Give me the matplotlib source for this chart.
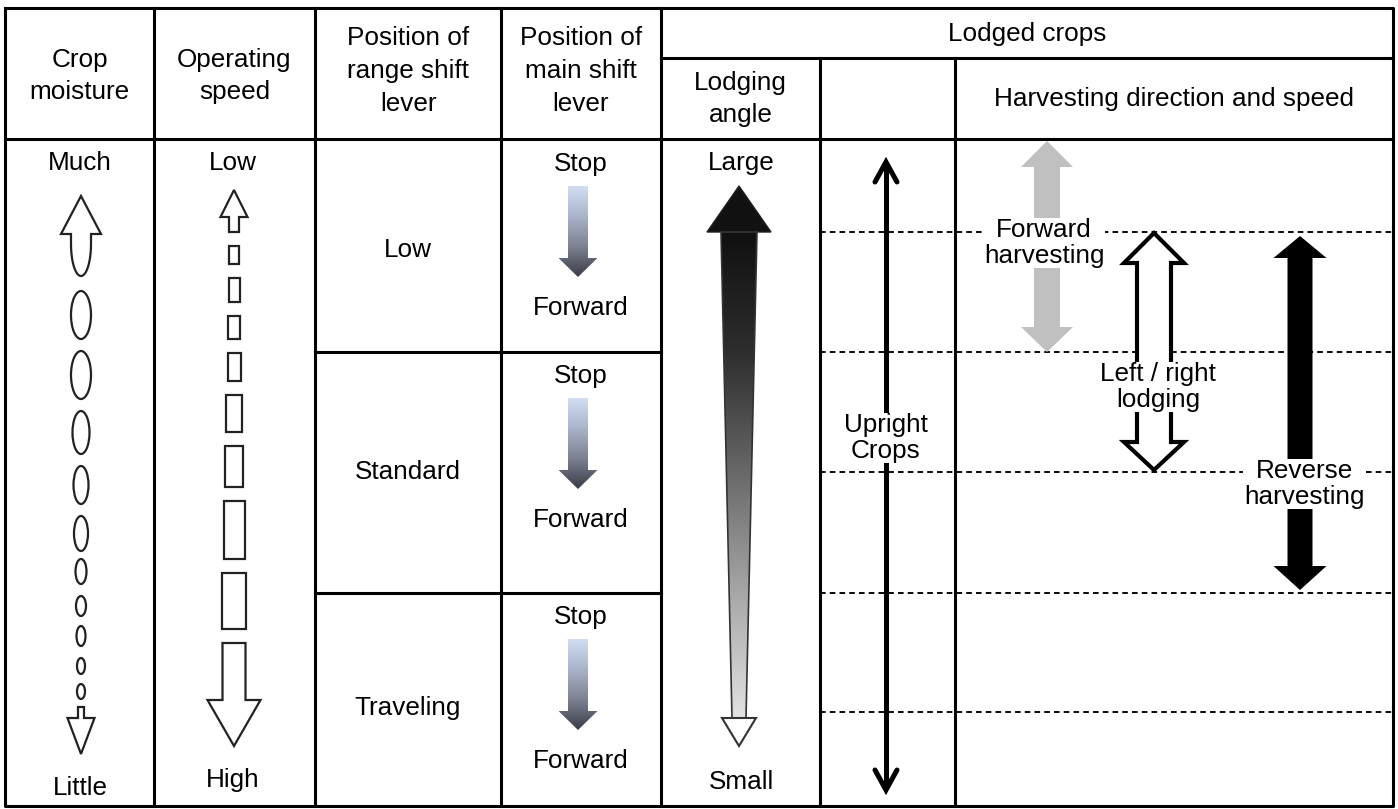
import numpy as np
import matplotlib.pyplot as plt
from matplotlib.patches import Polygon, Ellipse, Rectangle
from matplotlib.colors import LinearSegmentedColormap

plt.rcParams['font.family'] = ['Liberation Sans', 'DejaVu Sans']

# table texts
header_cols = ['Crop\nmoisture', 'Operating\nspeed',
               'Position of\nrange shift\nlever', 'Position of\nmain shift\nlever']
group_header = 'Lodged crops'
sub_headers = ['Lodging\nangle', '', 'Harvesting direction and speed']
moisture_ends = ['Much', 'Little']
speed_ends = ['Low', 'High']
range_positions = ['Low', 'Standard', 'Traveling']
main_shift = ['Stop', 'Forward']
angle_ends = ['Large', 'Small']
upright_label = 'Upright\nCrops'
harvest_labels = ['Forward\nharvesting', 'Left / right\nlodging', 'Reverse\nharvesting']

# layout (pixels, y down)
W, H = 1398, 809
col_x = [5, 154, 315, 501, 661, 820, 955, 1393]
top, mid_head, head_bot, bottom = 8, 58, 139, 806
cell_y = [139, 352, 593, 806]
dash_y = [232, 352, 472, 593, 712]
# crop moisture ovals: (top, bottom, width)
ovals = [(290, 340, 20), (350, 400, 20), (410, 455, 17), (465, 505, 15), (515, 552, 14),
         (558, 585, 11), (595, 617, 10), (625, 647, 9), (657, 675, 8), (683, 700, 8)]
# operating speed boxes: (top, bottom, width)
boxes = [(245, 265, 10), (277, 303, 11), (315, 340, 12), (352, 382, 13), (394, 433, 16),
         (445, 488, 18), (500, 560, 21), (572, 630, 24)]

FS = 18.8
LW = 2.2

fig = plt.figure(figsize=(W / 100, H / 100), dpi=100)
ax = fig.add_axes([0, 0, 1, 1])
ax.axis('off')


def txt(x, y, s, ls=1.45, **kw):
    ax.text(x, y, s, ha='center', va='center', fontsize=FS, linespacing=ls,
            multialignment='center', zorder=6, **kw)


def arrow_pts(cx, y_tail, y_base, y_tip, sw, hw):
    return [(cx - sw / 2, y_tail), (cx - sw / 2, y_base), (cx - hw / 2, y_base), (cx, y_tip),
            (cx + hw / 2, y_base), (cx + sw / 2, y_base), (cx + sw / 2, y_tail)]


def double_pts(cx, t_tip, t_base, b_base, b_tip, sw, hw):
    return [(cx, t_tip), (cx + hw / 2, t_base), (cx + sw / 2, t_base), (cx + sw / 2, b_base),
            (cx + hw / 2, b_base), (cx, b_tip), (cx - hw / 2, b_base), (cx - sw / 2, b_base),
            (cx - sw / 2, t_base), (cx - hw / 2, t_base)]


def grad_poly(pts, colors, z=3):
    pts = np.array(pts)
    cmap = LinearSegmentedColormap.from_list('g', colors)
    y0, y1 = pts[:, 1].min(), pts[:, 1].max()
    im = ax.imshow(np.linspace(0, 1, 256).reshape(-1, 1), cmap=cmap, aspect='auto',
                   extent=(pts[:, 0].min(), pts[:, 0].max(), y1, y0), origin='upper',
                   interpolation='bilinear', zorder=z)
    clip = Polygon(pts, closed=True, facecolor='none', edgecolor='none')
    ax.add_patch(clip)
    im.set_clip_path(clip)


# grid
ax.plot([col_x[0], col_x[-1], col_x[-1], col_x[0], col_x[0]], [top, top, bottom, bottom, top],
        color='black', lw=LW, zorder=5)
for x in col_x[1:5]:
    ax.plot([x, x], [top, bottom], color='black', lw=LW, zorder=5)
for x in col_x[5:7]:
    ax.plot([x, x], [mid_head, bottom], color='black', lw=LW, zorder=5)
ax.plot([col_x[4], col_x[-1]], [mid_head, mid_head], color='black', lw=LW, zorder=5)
ax.plot([col_x[0], col_x[-1]], [head_bot, head_bot], color='black', lw=LW, zorder=5)
for y in cell_y[1:3]:
    ax.plot([col_x[2], col_x[4]], [y, y], color='black', lw=LW, zorder=5)
for y in dash_y:
    ax.plot([col_x[5], col_x[-1]], [y, y], color='black', lw=1.35,
            linestyle=(0, (3.0, 2.2)), zorder=2)

# headers
for i, s in enumerate(header_cols):
    txt((col_x[i] + col_x[i + 1]) / 2, 76 if s.count('\n') == 1 else 71, s)
txt((col_x[4] + col_x[-1]) / 2, 34, group_header)
sub_x = [(col_x[4] + col_x[5]) / 2, (col_x[5] + col_x[6]) / 2, (col_x[6] + col_x[7]) / 2]
for x, s in zip(sub_x, sub_headers):
    txt(x, 99, s)

# crop moisture
cx = 81
txt(80, 163, moisture_ends[0])
txt(80, 788, moisture_ends[1])
t = np.linspace(0, np.pi, 40)
u = [(cx - 10, 234), (cx - 20, 234), (cx, 196), (cx + 20, 234), (cx + 10, 234)]
u += list(zip(cx + 10 * np.cos(t), 244 + 32 * np.sin(t)))
ax.add_patch(Polygon(u, closed=True, facecolor='white', edgecolor='#222', lw=1.6, zorder=3))
for (a, b, w) in ovals:
    ax.add_patch(Ellipse((cx, (a + b) / 2), w, b - a - 2, facecolor='none',
                         edgecolor='#222', lw=1.6, zorder=3))
ax.add_patch(Polygon(arrow_pts(cx, 707, 718, 754, 6, 27), closed=True, facecolor='white',
                     edgecolor='#222', lw=1.6, zorder=3))

# operating speed
cx = 234
txt(233, 163, speed_ends[0])
txt(233, 780, speed_ends[1])
ax.add_patch(Polygon(arrow_pts(cx, 232, 217, 190, 10, 27), closed=True, facecolor='white',
                     edgecolor='#222', lw=1.6, zorder=3))
for (a, b, w) in boxes:
    ax.add_patch(Rectangle((cx - w / 2, a + 1), w, b - a - 2, facecolor='none',
                           edgecolor='#222', lw=1.6, zorder=3))
ax.add_patch(Polygon(arrow_pts(cx, 643, 700, 746, 23, 53), closed=True, facecolor='white',
                     edgecolor='#222', lw=1.6, zorder=3))

# range shift lever
for i, s in enumerate(range_positions):
    txt(408, [250, 472, 708][i], s)

# main shift lever
cx = 581
for a in [140, 352, 593]:
    txt(cx, a + 24, main_shift[0])
    txt(cx, a + 168, main_shift[1])
    grad_poly(arrow_pts(cx - 3, a + 46, a + 118, a + 137, 20, 39),
              ['#d3ddf2', '#a9b3c9', '#7c8191', '#3a3c47'])

# lodging angle
cx = 739
txt(741, 163, angle_ends[0])
txt(741, 782, angle_ends[1])
ax.add_patch(Polygon([(cx, 186), (cx + 32, 232), (cx - 32, 232)], closed=True,
                     facecolor='#111', edgecolor='#222', lw=1, zorder=4))
stem = [(cx - 18, 232), (cx + 18, 232), (cx + 7, 718), (cx - 7, 718)]
grad_poly(stem, ['#101010', '#2e2e2e', '#6a6a6a', '#a8a8a8', '#e2e2e2'])
ax.add_patch(Polygon(stem, closed=True, facecolor='none', edgecolor='#333', lw=1.2, zorder=4))
ax.add_patch(Polygon([(cx - 17, 718), (cx + 17, 718), (cx, 746)], closed=True,
                     facecolor='white', edgecolor='#333', lw=1.5, zorder=4))

# upright crops
cx = 886
ax.plot([cx, cx], [163, 789], color='black', lw=3.6, zorder=3, solid_capstyle='butt')
ax.plot([cx - 11, cx, cx + 11], [182, 162, 182], color='black', lw=3.6, zorder=3,
        solid_capstyle='round', solid_joinstyle='miter')
ax.plot([cx - 11, cx, cx + 11], [770, 790, 770], color='black', lw=3.6, zorder=3,
        solid_capstyle='round', solid_joinstyle='miter')
txt(cx, 438, upright_label, ls=1.07, bbox=dict(facecolor='white', edgecolor='none', pad=0.5))

# harvesting direction and speed
ax.add_patch(Polygon(double_pts(1047, 141, 167, 327, 352, 26, 52), closed=True,
                     facecolor='#c0c0c0', edgecolor='none', zorder=3))
ax.add_patch(Polygon(double_pts(1154, 233, 263, 442, 470, 34, 60), closed=True,
                     facecolor='white', edgecolor='black', lw=3, zorder=3))
ax.add_patch(Polygon(double_pts(1300, 236, 258, 566, 590, 25, 53), closed=True,
                     facecolor='black', edgecolor='none', zorder=3))
box = dict(facecolor='white', edgecolor='none', pad=0.5)
txt(1044, 243, harvest_labels[0], ls=1.07, bbox=box)
txt(1158, 387, harvest_labels[1], ls=1.07, bbox=box)
txt(1304, 484, harvest_labels[2], ls=1.07, bbox=box)

ax.set_xlim(0, W)
ax.set_ylim(H, 0)
fig.savefig('out.png', dpi=100)
